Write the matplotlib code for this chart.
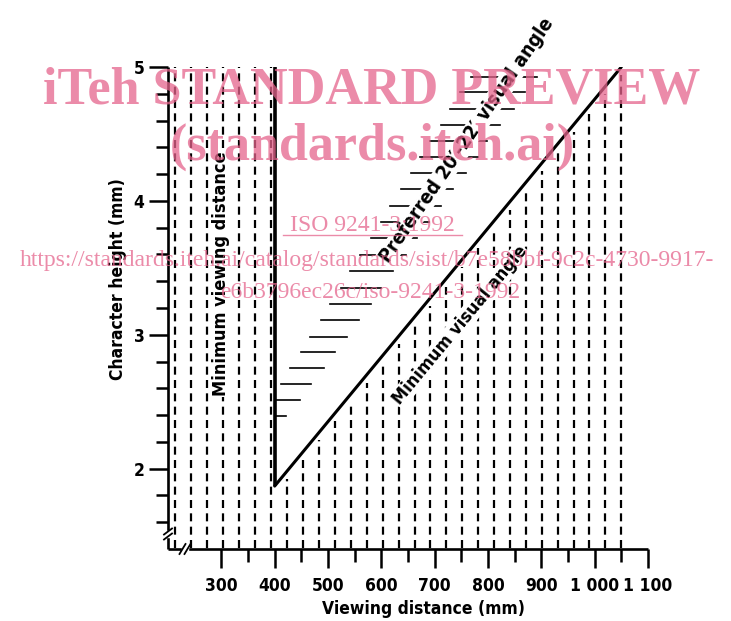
import numpy as np
import matplotlib
matplotlib.use('Agg')
import matplotlib.pyplot as plt
from matplotlib.lines import Line2D

# ---------------- data ----------------
x_major_ticks = [300, 400, 500, 600, 700, 800, 900, 1000, 1100]
x_tick_labels = ['300', '400', '500', '600', '700', '800', '900', '1 000', '1 100']
x_minor_ticks = [350, 450, 550, 650, 750, 850, 950, 1050]
y_major_ticks = [2, 3, 4, 5]
y_tick_labels = ['2', '3', '4', '5']
y_minor_ticks = [1.6, 1.8, 2.2, 2.4, 2.6, 2.8, 3.2, 3.4, 3.6, 3.8, 4.2, 4.4, 4.6, 4.8]

min_view_distance = 400
min_view_top = 5.0
min_angle_x = [400, 1050]
min_angle_y = [1.87, 5.0]

hatch_x = [214, 244, 274, 304, 334, 364, 394, 424, 454, 484, 514, 543, 573, 603,
           633, 663, 692, 722, 752, 782, 812, 841, 871, 901, 931, 961, 990, 1020, 1050]

pref_h = [2.396, 2.515, 2.634, 2.751, 2.868, 2.987, 3.112, 3.231, 3.348, 3.48, 3.597,
          3.722, 3.846, 3.963, 4.087, 4.207, 4.33, 4.448, 4.567, 4.69, 4.816, 4.928]
pref_left = [400, 400, 412, 429, 449, 466, 486, 504, 524, 542, 560, 580, 600, 617,
             636, 655, 673, 692, 711, 729, 748, 768]
pref_right = [422, 447, 469, 492, 514, 536, 558, 580, 600, 622, 646, 666, 690, 712,
              734, 758, 782, 798, 823, 848, 870, 892]

# ---------------- figure ----------------
W, H = 731, 621
fig = plt.figure(figsize=(W / 100, H / 100), dpi=100, facecolor='white')
ax = fig.add_axes([168 / W, 1 - 549 / H, (648 - 168) / W, (549 - 67) / H])
ax.set_xlim(200, 1100)
ax.set_ylim(1.4, 5.0)

font = dict(family='DejaVu Sans', fontweight='bold', fontstretch='condensed')

for s in ['top', 'right']:
    ax.spines[s].set_visible(False)
for s in ['left', 'bottom']:
    ax.spines[s].set_linewidth(1.9)
    ax.spines[s].set_capstyle('butt')

ax.set_xticks(x_major_ticks)
ax.set_xticklabels(x_tick_labels, **font, fontsize=12.5)
ax.set_xticks(x_minor_ticks, minor=True)
ax.set_yticks(y_major_ticks)
ax.set_yticklabels(y_tick_labels, **font, fontsize=12.5)
ax.set_yticks(y_minor_ticks, minor=True)
ax.tick_params(which='major', length=14, width=1.8, direction='out')
ax.tick_params(which='minor', length=9, width=1.8, direction='out')
ax.tick_params(axis='x', which='major', pad=6)
ax.tick_params(axis='y', which='major', pad=3)

ax.set_xlabel('Viewing distance (mm)', **font, fontsize=12.5)
ax.xaxis.set_label_coords(0.533, -0.105)
ax.set_ylabel('Character height (mm)', **font, fontsize=12.5)
ax.yaxis.set_label_coords(-0.085, 0.56)

dash = (0, (3.6, 2.4))
# vertical dashed hatching
for xv in hatch_x:
    if xv < min_view_distance:
        top = 5.0
    else:
        top = np.interp(xv, min_angle_x, min_angle_y) - 0.06
    ax.plot([xv, xv], [1.41, top], color='black', lw=1.6, linestyle=dash,
            zorder=1, clip_on=False)

# preferred region horizontal hatching
for h, l, r in zip(pref_h, pref_left, pref_right):
    ax.plot([l, r], [h, h], color='black', lw=1.2, zorder=1)

# minimum viewing distance line and minimum visual angle line
ax.plot([min_view_distance, min_view_distance], [min_angle_y[0], min_view_top],
        color='black', lw=2.6, zorder=4, solid_capstyle='butt')
ax.plot(min_angle_x, min_angle_y, color='black', lw=2.2, zorder=4,
        solid_capstyle='round')

wb = dict(facecolor='white', edgecolor='none', pad=0.6)
ax.text(300, 3.455, 'Minimum viewing distance', rotation=90, ha='center', va='center',
        fontsize=13, bbox=wb, zorder=3, **font)
ax.text(760, 4.45, 'Preferred 20\u2032-22\u2032 visual angle', rotation=55.5,
        rotation_mode='anchor', ha='center', va='center', fontsize=14, bbox=wb,
        zorder=3, clip_on=False, **font)
ax.text(747, 3.07, 'Minimum visual angle', rotation=50.3, rotation_mode='anchor',
        ha='center', va='center', fontsize=13, bbox=wb, zorder=3, **font)

# axis break marks
def brk(x0, y0, horizontal):
    tr = fig.transFigure
    if horizontal:
        fig.add_artist(Line2D([(x0 - 2) / W, (x0 + 2) / W], [1 - y0 / H, 1 - y0 / H],
                              color='white', lw=2.5, transform=tr, zorder=10))
    else:
        fig.add_artist(Line2D([x0 / W, x0 / W], [1 - (y0 + 2) / H, 1 - (y0 - 2) / H],
                              color='white', lw=2.5, transform=tr, zorder=10))
    for d in (-2.5, 2.5):
        if horizontal:
            xs = [(x0 + d - 3) / W, (x0 + d + 3) / W]
            ys = [1 - (y0 + 5) / H, 1 - (y0 - 5) / H]
        else:
            xs = [(x0 - 4) / W, (x0 + 4) / W]
            ys = [1 - (y0 + d + 3) / H, 1 - (y0 + d - 3) / H]
        fig.add_artist(Line2D(xs, ys, color='black', lw=1.3, transform=tr, zorder=11))

brk(185, 549, True)
brk(168, 534, False)

# watermark
pink = '#e5648c'
wm = dict(color=pink, alpha=0.75, ha='center', zorder=20)
fig.text(372 / W, 1 - 104 / H, 'iTeh STANDARD PREVIEW', family='Liberation Serif',
         fontweight='bold', fontsize=37.5, va='baseline', **wm)
fig.text(372 / W, 1 - 160 / H, '(standards.iteh.ai)', family='Liberation Serif',
         fontweight='bold', fontsize=37.5, va='baseline', **wm)
fig.text(372 / W, 1 - 231 / H, 'ISO 9241-3:1992', family='Liberation Serif',
         fontsize=17, va='baseline', **wm)
fig.add_artist(Line2D([283 / W, 462 / W], [1 - 235 / H, 1 - 235 / H], color=pink,
                      alpha=0.75, lw=1.0, transform=fig.transFigure, zorder=20))
fig.text(367 / W, 1 - 266 / H,
         'https://standards.iteh.ai/catalog/standards/sist/b7e58bbf-9c2c-4730-9917-',
         family='Liberation Serif', fontsize=17, va='baseline', **wm)
fig.text(370 / W, 1 - 298 / H, 'e6b3796ec26c/iso-9241-3-1992',
         family='Liberation Serif', fontsize=17, va='baseline', **wm)

fig.savefig('out.png', dpi=100, facecolor='white')
